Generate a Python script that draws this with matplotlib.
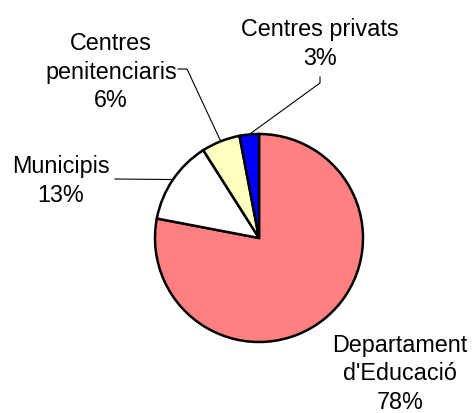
import numpy as np
import matplotlib
matplotlib.use("Agg")
import matplotlib.pyplot as plt

categories = ["Departament\nd'Educació", "Municipis", "Centres\npenitenciaris", "Centres privats"]
values = [78, 13, 6, 3]
colors = ["#FF8080", "#FFFFFF", "#FFFFC0", "#0000FF"]

W, H = 476, 414
fig = plt.figure(figsize=(W / 100, H / 100), dpi=100)
ax = fig.add_axes([0, 0, 1, 1])

cx, cy, r = 259, H - 239, 104
wedges, _ = ax.pie(values, colors=colors, startangle=90, counterclock=False,
                   center=(cx, cy), radius=r, frame=True,
                   wedgeprops=dict(edgecolor="black", linewidth=1.8))
ax.set_xlim(0, W)
ax.set_ylim(0, H)
ax.axis("off")

font = dict(family=["Liberation Sans", "DejaVu Sans"], fontsize=16.8,
            ha="center", va="center", linespacing=1.33)

# label positions (pixel coords from top) and leader anchor points
labels = [
    (400, 374, None),
    (61, 181, (115, 180)),
    (111, 72, (178, 70)),
    (320, 44, (320, 78)),
]
for w, cat, v, (lx, ly, anchor) in zip(wedges, categories, values, labels):
    ax.text(lx, H - ly, f"{cat}\n{v}%", **font)
    if anchor is not None:
        ang = np.deg2rad((w.theta1 + w.theta2) / 2)
        px, py = cx + r * np.cos(ang), cy + r * np.sin(ang)
        ax_, ay_ = anchor
        pts_x = [ax_, px]
        pts_y = [H - ay_, py]
        if cat.startswith("Centres\npen"):
            pts_x = [ax_, ax_ + 9, px]
            pts_y = [H - ay_, H - ay_, py]
        elif cat == "Centres privats":
            pts_x = [ax_, ax_, px]
            pts_y = [H - ay_, H - ay_ - 6, py]
        ax.plot(pts_x, pts_y, color="black", linewidth=0.8, zorder=0)

fig.savefig("out.png", dpi=100)
